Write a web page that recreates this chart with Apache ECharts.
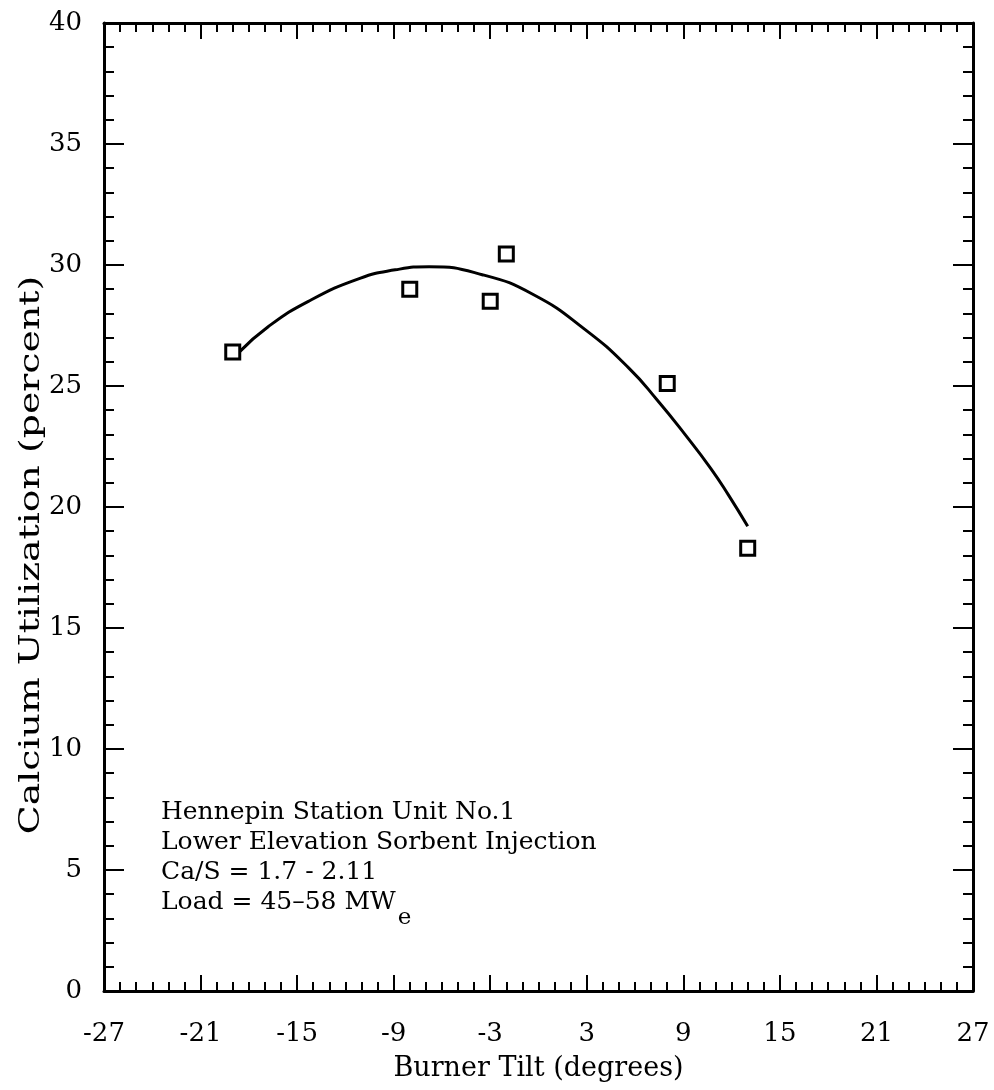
<!DOCTYPE html>
<html>
<head>
<meta charset="utf-8">
<script src="https://cdn.jsdelivr.net/npm/echarts@6/dist/echarts.min.js"></script>
<style>
  html, body { margin: 0; padding: 0; background: #fff; }
  #chart { width: 994px; height: 1090px; }
</style>
</head>
<body>
<div id="chart"></div>
<script>
// measured points (burner tilt, calcium utilization)
var tiltPoints = [-19, -8, -3, -2, 8, 13];
var utilPoints = [26.4, 29.0, 28.5, 30.45, 25.1, 18.3];

// fitted curve
var curveTilt = [-18.6, -16.8, -14.3, -11.1, -8.9, -6.8, -3.5, -0.3, 2.9, 5.6, 7.4, 9.1, 10.7, 11.8, 13.0];
var curveUtil = [26.4, 27.45, 28.5, 29.45, 29.8, 29.93, 29.6, 28.77, 27.33, 25.75, 24.4, 23.0, 21.6, 20.5, 19.2];

var xTicks = [-27, -21, -15, -9, -3, 3, 9, 15, 21, 27];
var yTicks = [0, 5, 10, 15, 20, 25, 30, 35, 40];

var noteLines = [
  "Hennepin Station Unit No.1",
  "Lower Elevation Sorbent Injection",
  "Ca/S = 1.7 - 2.11",
  "Load = 45\u201358 MW{sub|e}"
];

var FONT = "'DejaVu Serif', 'Liberation Serif', serif";

var chart = echarts.init(document.getElementById("chart"));

function pairs(xs, ys) {
  return xs.map(function (x, i) { return [x, ys[i]]; });
}

function xAxisCfg(pos, withLabels) {
  return {
    type: "value",
    position: pos,
    min: xTicks[0],
    max: xTicks[xTicks.length - 1],
    interval: 6,
    axisLine: { show: true, onZero: false, lineStyle: { color: "#000", width: 3 } },
    axisTick: { show: true, inside: true, length: 16, lineStyle: { color: "#000", width: 2 } },
    minorTick: { show: true, splitNumber: 6, length: 9, lineStyle: { color: "#000", width: 2 } },
    splitLine: { show: false },
    axisLabel: {
      show: withLabels, color: "#000", fontFamily: FONT, fontSize: 26, margin: 30
    },
    name: withLabels ? "Burner Tilt (degrees)" : "",
    nameLocation: "middle",
    nameGap: 64,
    nameTextStyle: { color: "#000", fontFamily: FONT, fontSize: 27 }
  };
}

function yAxisCfg(pos, withLabels) {
  return {
    type: "value",
    position: pos,
    min: yTicks[0],
    max: yTicks[yTicks.length - 1],
    interval: 5,
    axisLine: { show: true, onZero: false, lineStyle: { color: "#000", width: 3 } },
    axisTick: { show: true, inside: true, length: 20, lineStyle: { color: "#000", width: 2 } },
    minorTick: { show: true, splitNumber: 5, length: 10, lineStyle: { color: "#000", width: 2 } },
    splitLine: { show: false },
    axisLabel: {
      show: withLabels, color: "#000", fontFamily: FONT, fontSize: 26, margin: 22
    }
  };
}

var option = {
  backgroundColor: "#fff",
  animation: false,
  grid: { left: 104, right: 21, top: 23, bottom: 99 },
  xAxis: [xAxisCfg("bottom", true), xAxisCfg("top", false)],
  yAxis: [yAxisCfg("left", true), yAxisCfg("right", false)],
  graphic: [
    {
      type: "text",
      x: 32,
      y: 555,
      rotation: Math.PI / 2,
      scaleX: 1.4,
      style: {
        text: "Calcium Utilization (percent)",
        fill: "#000",
        font: "27px " + FONT,
        align: "center",
        verticalAlign: "middle"
      }
    },
    {
      type: "text",
      x: 161,
      y: 797,
      style: {
        text: noteLines.join("\n"),
        fill: "#000",
        font: "25px " + FONT,
        lineHeight: 30,
        rich: {
          sub: { fontFamily: FONT, fontSize: 23, fill: "#000", padding: [32, 0, 0, 2] }
        }
      }
    }
  ],
  series: [
    {
      name: "fit",
      type: "line",
      smooth: 0.5,
      showSymbol: false,
      data: pairs(curveTilt, curveUtil),
      lineStyle: { color: "#000", width: 3 },
      z: 2
    },
    {
      name: "measured",
      type: "scatter",
      symbol: "rect",
      symbolSize: 14,
      data: pairs(tiltPoints, utilPoints),
      itemStyle: { color: "#fff", borderColor: "#000", borderWidth: 3, opacity: 1 },
      z: 3
    }
  ]
};

chart.setOption(option);
</script>
</body>
</html>
